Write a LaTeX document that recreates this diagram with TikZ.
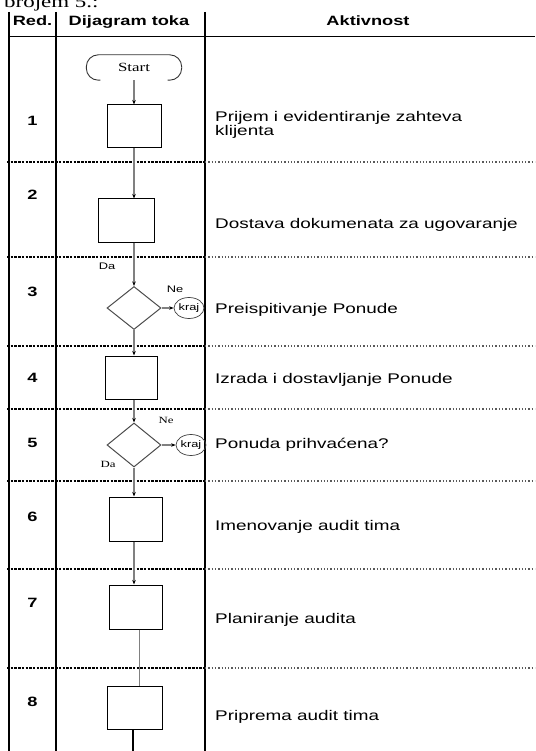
\documentclass[tikz,border=0pt]{standalone}
\usepackage{fontspec}
\setmainfont{Liberation Sans}[FakeStretch=1.35]
\newfontfamily\serifst{Liberation Serif}[FakeStretch=1.35]
\usetikzlibrary{shapes.geometric,arrows.meta}
\begin{document}
\begin{tikzpicture}[x=1pt,y=-1pt,
  box/.style={draw=black,line width=1pt,minimum width=54pt,minimum height=43pt,inner sep=0pt},
  dec/.style={draw=gray!60!black,line width=1pt,shape=diamond,minimum width=54pt,minimum height=43pt,inner sep=0pt},
  endnode/.style={draw=gray!50!black,line width=0.7pt,ellipse,minimum width=30pt,minimum height=21pt,inner sep=0pt,font=\fontsize{9.5}{10}\selectfont},
  conn/.style={draw=gray,line width=1.3pt},
  arr/.style={conn,-{Stealth[length=4.5pt,width=3.5pt,black]}},
  act/.style={anchor=base west,inner sep=0pt,font=\fontsize{14}{14}\selectfont},
  num/.style={inner sep=0pt,font=\bfseries\fontsize{13.5}{14}\selectfont},
  hdr/.style={anchor=base,inner sep=0pt,font=\bfseries\fontsize{13.5}{14}\selectfont},
  lbl/.style={inner sep=0pt,font=\fontsize{9.5}{10}\selectfont},
  slbl/.style={inner sep=0pt,font=\serifst\fontsize{9.5}{10}\selectfont},
  colline/.style={line width=1.3pt,black},
  sepA/.style={line width=1.2pt,dash pattern=on 2.5pt off 1.2pt},
  sepB/.style={line width=1.1pt,dash pattern=on 1.3pt off 2pt,gray!70!black}
]
\useasboundingbox (0,0) rectangle (535,751);
\clip (0,0) rectangle (535,751);

% top cut-off text
\node[anchor=base west,inner sep=0pt,font=\serifst\fontsize{17}{17}\selectfont] (top) at (4,8) {brojem 5.:};

% columns and header
\draw[colline] (9,12) -- (9,751);
\draw[colline] (56,12) -- (56,751);
\draw[colline] (205,12) -- (205,751);
\draw[line width=1pt] (9,37) -- (535,37);
\node[hdr] (hred) at (32.5,26) {Red.};
\node[hdr] (hdij) at (129,26) {Dijagram toka};
\node[hdr] (hakt) at (368,26) {Aktivnost};

% row separators
\foreach \yy in {162,257,346,409,481,569,668}{
  \draw[sepA] (7,\yy) -- (205,\yy);
  \draw[sepB] (205,\yy) -- (535,\yy);
}

% row numbers
\node[num] (n1) at (32.5,121) {1};
\node[num] (n2) at (32.5,195) {2};
\node[num] (n3) at (32.5,292) {3};
\node[num] (n4) at (32.5,378) {4};
\node[num] (n5) at (32.5,443) {5};
\node[num] (n6) at (32.5,517) {6};
\node[num] (n7) at (32.5,603) {7};
\node[num] (n8) at (32.5,702) {8};

% activities
\node[act] (a1) at (215,122) {Prijem i evidentiranje zahteva};
\node[act] (a1b) at (215,136) {klijenta};
\node[act] (a2) at (215,228) {Dostava dokumenata za ugovaranje};
\node[act] (a3) at (215,313) {Preispitivanje Ponude};
\node[act] (a4) at (215,383) {Izrada i dostavljanje Ponude};
\node[act] (a5) at (215,448) {Ponuda prihvaćena?};
\node[act] (a6) at (215,530) {Imenovanje audit tima};
\node[act] (a7) at (215,623) {Planiranje audita};
\node[act] (a8) at (215,720) {Priprema audit tima};

% flowchart
\node[minimum width=95pt,minimum height=25pt,inner sep=0pt,font=\serifst\fontsize{12.5}{13}\selectfont] (start) at (134,67.5) {\raisebox{-1.5pt}{Start}};
\draw[line width=0.9pt,gray!40!black,rounded corners=12pt]
  ([xshift=14pt]start.south west) -- (start.south west) -- (start.north west)
  -- (start.north east) -- (start.south east) -- ([xshift=-14pt]start.south east);

\node[box] (b1) at (134,126.5) {};
\node[box,minimum width=56pt] (b2) at (126,220.5) {};
\node[dec] (d3) at (134,308) {};
\node[box,minimum width=52pt] (b4) at (131,377.5) {};
\node[dec,minimum height=44pt] (d5) at (134,445) {};
\node[box,minimum width=53pt,minimum height=44pt] (b6) at (135.5,519) {};
\node[box,minimum width=53pt,minimum height=44pt] (b7) at (135.5,607) {};
\node[box,minimum width=55pt] (b8) at (134.5,707.5) {};

\node[endnode] (k3) at (189,308) {kraj};
\node[endnode] (k5) at (191,445) {kraj};

\node[lbl] (da3) at (107,266) {Da};
\node[lbl] (ne3) at (175,289) {Ne};
\node[slbl] (ne5) at (166,420) {Ne};
\node[slbl] (da5) at (108,464) {Da};

\draw[arr] (start) -- (b1);
\draw[arr] (b1.south) -- (b1.south |- b2.north);
\draw[arr] (b2.south -| d3.north) -- (d3.north);
\draw[arr] (d3.east) -- (k3.west);
\draw[arr] (d3.south) -- (d3.south |- b4.north);
\draw[arr] (b4.south -| d5.north) -- (d5.north);
\draw[arr] (d5.east) -- (k5.west);
\draw[arr] (d5.south) -- (d5.south |- b6.north);
\draw[arr] (b6.south -| d5.south) -- (d5.south |- b7.north);
\draw[conn] ([xshift=4pt]b7.south) -- ([xshift=4pt]b7.south |- b8.north);
\coordinate (bot) at (133,751);
\draw[conn,draw=black] (b8.south -| bot) -- (bot);
\end{tikzpicture}
\end{document}
